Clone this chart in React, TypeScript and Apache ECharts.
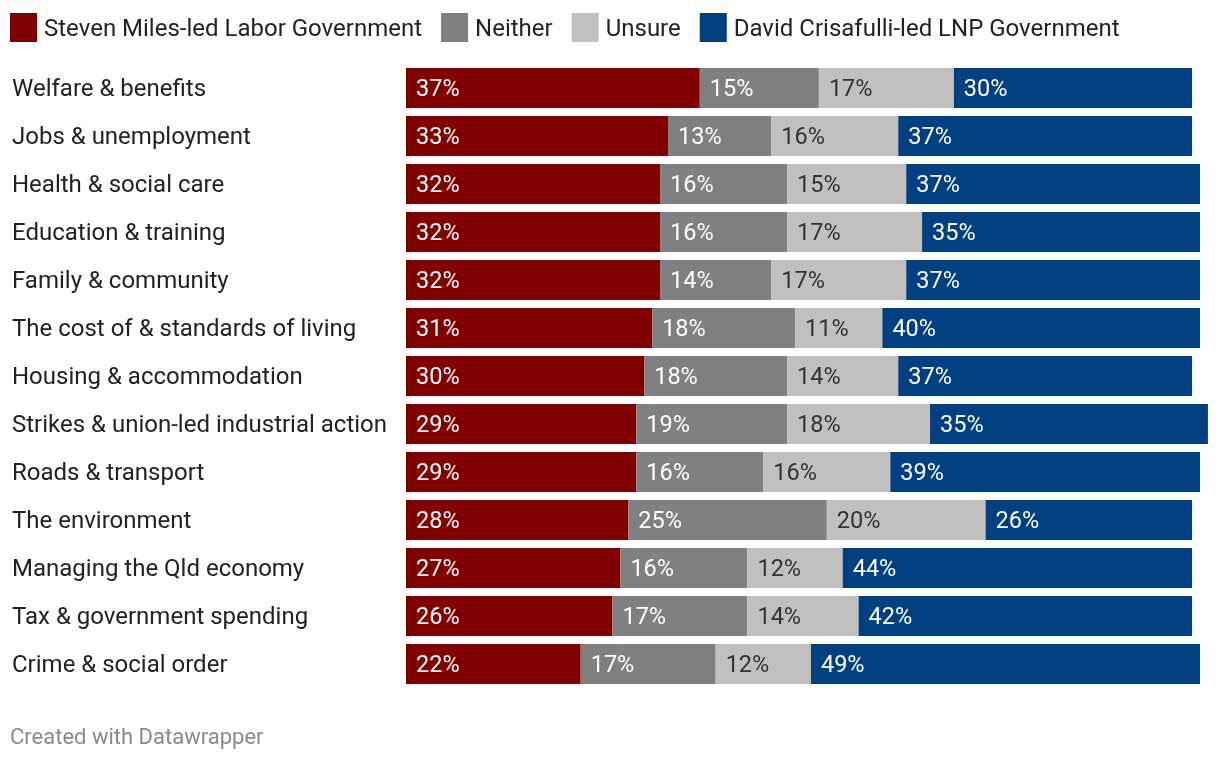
import React, { useEffect, useRef } from "react";
import * as echarts from "echarts";

const categories = [
  "Welfare & benefits",
  "Jobs & unemployment",
  "Health & social care",
  "Education & training",
  "Family & community",
  "The cost of & standards of living",
  "Housing & accommodation",
  "Strikes & union-led industrial action",
  "Roads & transport",
  "The environment",
  "Managing the Qld economy",
  "Tax & government spending",
  "Crime & social order",
];

const labor = [37, 33, 32, 32, 32, 31, 30, 29, 29, 28, 27, 26, 22];
const neither = [15, 13, 16, 16, 14, 18, 18, 19, 16, 25, 16, 17, 17];
const unsure = [17, 16, 15, 17, 17, 11, 14, 18, 16, 20, 12, 14, 12];
const lnp = [30, 37, 37, 35, 37, 40, 37, 35, 39, 26, 44, 42, 49];

const seriesNames = [
  "Steven Miles-led Labor Government",
  "Neither",
  "Unsure",
  "David Crisafulli-led LNP Government",
];
const colors = ["#800000", "#808080", "#c0c0c0", "#004080"];
const labelColors = ["#ffffff", "#ffffff", "#333333", "#ffffff"];

const FONT = "Roboto, 'Noto Sans', sans-serif";

export default function App() {
  const ref = useRef<HTMLDivElement>(null);
  useEffect(() => {
    if (!ref.current) return;
    const chart = echarts.init(ref.current, undefined, { renderer: "svg" });
    const all = [labor, neither, unsure, lnp];
    chart.setOption({
      animation: false,
      textStyle: { fontFamily: FONT },
      legend: {
        left: 10,
        top: 13,
        padding: 0,
        itemWidth: 27,
        itemHeight: 29,
        itemGap: 19,
        icon: "rect",
        textStyle: {
          fontFamily: FONT,
          fontSize: 24,
          color: "#222",
          padding: [0, 0, 0, 2],
        },
        data: seriesNames,
      },
      grid: {
        left: 406,
        top: 64,
        width: 794 * 1.02,
        height: 624,
        containLabel: false,
      },
      xAxis: {
        type: "value",
        min: 0,
        max: 102,
        show: false,
      },
      yAxis: {
        type: "category",
        data: categories,
        inverse: true,
        axisLine: { show: false },
        axisTick: { show: false },
        axisLabel: {
          align: "left",
          margin: 394,
          fontFamily: FONT,
          fontSize: 24,
          color: "#222",
        },
      },
      series: all.map((d, i) => ({
        name: seriesNames[i],
        type: "bar",
        stack: "total",
        barWidth: 40,
        data: d,
        itemStyle: { color: colors[i] },
        label: {
          show: true,
          position: "insideLeft",
          distance: 10,
          formatter: "{c}%",
          fontFamily: FONT,
          fontSize: 23.5,
          color: labelColors[i],
        },
      })),
      graphic: [
        {
          type: "text",
          left: 10,
          top: 725,
          style: {
            text: "Created with Datawrapper",
            fontFamily: FONT,
            fontSize: 22,
            fill: "#8a8a8a",
          },
        },
      ],
    });
    return () => chart.dispose();
  }, []);
  return (
    <div
      ref={ref}
      style={{ position: "fixed", left: 0, top: 0, width: 1220, height: 762 }}
    />
  );
}
